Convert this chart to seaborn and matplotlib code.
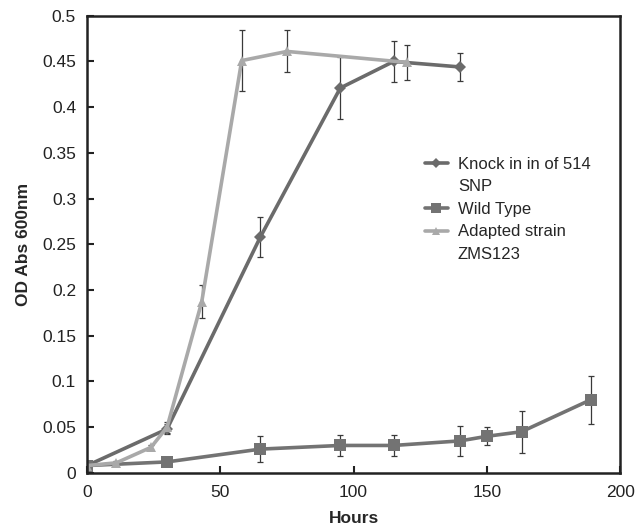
import seaborn as sns
import matplotlib.pyplot as plt
from matplotlib.lines import Line2D
import pandas as pd

# Dados
horas_knock = [0, 30, 65, 95, 115, 140]
od_knock = [0.008, 0.048, 0.258, 0.421, 0.450, 0.444]
err_knock = [0.003, 0.006, 0.022, 0.034, 0.022, 0.015]

horas_wild = [0, 30, 65, 95, 115, 140, 150, 163, 189]
od_wild = [0.008, 0.012, 0.026, 0.030, 0.030, 0.035, 0.040, 0.045, 0.080]
err_wild = [0.003, 0.002, 0.014, 0.011, 0.011, 0.016, 0.010, 0.023, 0.026]

horas_adapt = [0, 11, 24, 30, 43, 58, 75, 120]
od_adapt = [0.008, 0.011, 0.028, 0.050, 0.187, 0.451, 0.461, 0.449]
err_adapt = [0.003, 0.002, 0.003, 0.006, 0.018, 0.033, 0.023, 0.019]

nomes = ['Knock in in of 514\nSNP', 'Wild Type', 'Adapted strain\nZMS123']
cores = ['#6b6b6b', '#737373', '#a9a9a9']
marcadores = ['D', 's', '^']
tamanhos = [6, 8.5, 7.5]

series = [
    (horas_knock, od_knock, err_knock),
    (horas_wild, od_wild, err_wild),
    (horas_adapt, od_adapt, err_adapt),
]

sns.set_style('ticks')
plt.rcParams['font.family'] = ['Liberation Sans', 'DejaVu Sans']

fig = plt.figure(figsize=(6.36, 5.26), dpi=100)
ax = fig.add_axes([0.137, 0.101, 0.838, 0.869])

# Barras de erro primeiro
for (x, y, e) in series:
    ax.errorbar(x, y, yerr=e, fmt='none', ecolor='#3a3a3a',
                elinewidth=0.9, capsize=2.5, capthick=0.9, zorder=1)

# Uma curva por cepa
for (x, y, e), nome, cor, mk, tam in zip(series, nomes, cores, marcadores, tamanhos):
    df = pd.DataFrame({'Hours': x, 'OD': y})
    sns.lineplot(data=df, x='Hours', y='OD', color=cor, marker=mk, markersize=tam,
                 markeredgewidth=0, linewidth=2.6, sort=False, label=nome,
                 ax=ax, zorder=2)

ax.set_xlim(0, 200)
ax.set_ylim(0, 0.5)
ax.set_xticks([0, 50, 100, 150, 200])
ax.set_yticks([0, 0.05, 0.1, 0.15, 0.2, 0.25, 0.3, 0.35, 0.4, 0.45, 0.5])
ax.set_yticklabels(['0', '0.05', '0.1', '0.15', '0.2', '0.25', '0.3', '0.35', '0.4', '0.45', '0.5'])
ax.tick_params(direction='in', length=5, width=1.5, labelsize=12.5, colors='#222222', pad=8)
ax.tick_params(axis='x', pad=9)
for s in ax.spines.values():
    s.set_visible(True)
    s.set_linewidth(1.8)
    s.set_color('#222222')

ax.set_xlabel('Hours', fontsize=12.5, fontweight='bold', labelpad=8)
ax.set_ylabel('OD Abs 600nm', fontsize=12.5, fontweight='bold', labelpad=8)

# Legenda: o marcador fica alinhado à primeira linha de cada rótulo
handles, labels = ax.get_legend_handles_labels()
vazio = Line2D([], [], linestyle='none', marker='none')
h_leg, l_leg = [], []
for h, lab in zip(handles, labels):
    partes = lab.split('\n')
    h_leg.append(h)
    l_leg.append(partes[0])
    for p in partes[1:]:
        h_leg.append(vazio)
        l_leg.append(p)

ax.legend(h_leg, l_leg, frameon=False, fontsize=12, loc='upper left',
          bbox_to_anchor=(0.605, 0.724), handlelength=1.4, labelspacing=0.45,
          handletextpad=0.6, markerscale=0.8)

fig.savefig('out.png', dpi=100)
